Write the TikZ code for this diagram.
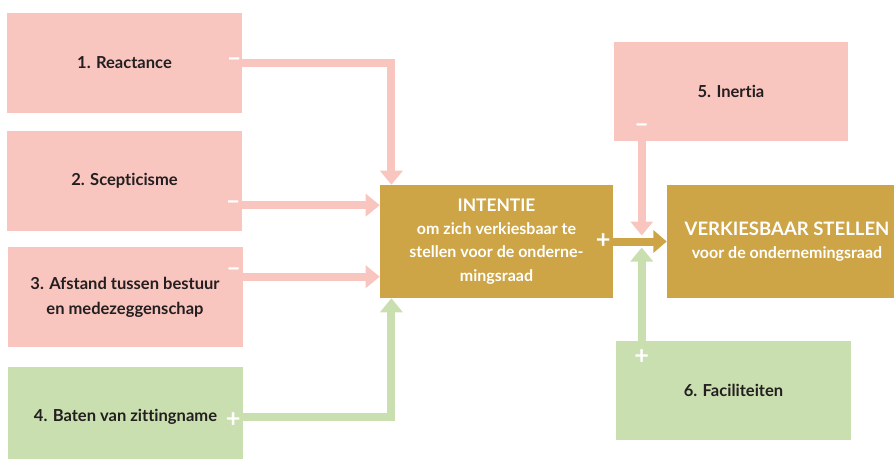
\documentclass[tikz,border=0pt]{standalone}
\usepackage{fontspec}
\setmainfont{Lato}[Ligatures=NoCommon]
\usetikzlibrary{arrows.meta,calc,positioning}

\definecolor{roze}{HTML}{F9C5BF}
\definecolor{groen}{HTML}{CADFAF}
\definecolor{goud}{HTML}{CDA546}
\definecolor{inkt}{HTML}{231F20}

\tikzset{
  factor/.style={minimum width=176.25pt, minimum height=75pt, inner sep=0pt, align=center,
    text=inkt, font=\fontsize{12.4}{18.8}\selectfont\bfseries},
  remmer/.style={factor, fill=roze},
  drijver/.style={factor, fill=groen},
  uitkomst/.style={fill=goud, minimum height=84.75pt, inner sep=0pt, align=center,
    text=white, font=\fontsize{12}{17.5}\selectfont\bfseries},
  teken/.style={text=white, inner sep=0pt, font=\fontsize{19}{19}\selectfont\bfseries},
  negarrow/.style={draw=roze, line width=6pt, -{Triangle[width=16.5pt,length=10.5pt]}},
  posarrow/.style={draw=groen, line width=6pt, -{Triangle[width=16.5pt,length=10.5pt]}},
  goudarrow/.style={draw=goud, line width=6pt, -{Triangle[width=16.5pt,length=10pt]}}
}

\begin{document}
\begin{tikzpicture}[x=0.75pt,y=-0.75pt]
    \useasboundingbox (0,0) rectangle (894,458);
    \clip (0,0) rectangle (894,458);

    % factoren links
    \node[remmer] (r1) at (124.5,63) {1. Reactance};
    \node[remmer] (r2) at (124.5,181) {2. Scepticisme};
    \node[remmer] (r3) at (125,297) {3. Afstand tussen bestuur\\en medezeggenschap};
    \node[drijver] (r4) at (125.5,417) {4. Baten van zittingname};

    % intentie en gedrag
    \node[uitkomst, minimum width=174.75pt] (int) at (496.5,241.5)
        {{\fontsize{13}{17.5}\selectfont INTENTIE}\\om zich verkiesbaar te\\stellen voor de onderne-\\mingsraad};
    \node[uitkomst, minimum width=180pt] (verk) at (787,241.5)
        {{\fontsize{13.9}{19.5}\selectfont VERKIESBAAR STELLEN}\\voor de ondernemingsraad};

    % factoren rechts
    \node[remmer, minimum width=175.5pt, minimum height=74.25pt] (r5) at (731,91.5) {5. Inertia};
    \node[drijver, minimum width=176.25pt, minimum height=74.25pt] (r6) at (733.5,390.5) {6. Faciliteiten};

    % aanhechtpunten
    \coordinate (in1) at ($(int.north west)!0.05!(int.north east)$);
    \coordinate (in2) at ($(int.north west)!0.18!(int.south west)$);
    \coordinate (in3) at ($(int.north west)!0.81!(int.south west)$);
    \coordinate (in4) at ($(int.south west)!0.05!(int.south east)$);
    \coordinate (t5) at ($(r5.south west)+(28,0)$);
    \coordinate (jn) at (t5 |- int.east);

    \draw[negarrow] (r1.east) -| (in1);
    \draw[negarrow] (r2.east |- in2) -- (in2);
    \draw[negarrow] (r3.east |- in3) -- (in3);
    \draw[posarrow] (r4.east) -| (in4);
    \draw[goudarrow] (int.east) -- (verk.west);
    \draw[negarrow] (t5) -- ($(jn)+(0,-6)$);
    \draw[posarrow] (r6.north -| t5) -- ($(jn)+(0,6)$);

    % tekens
    \node[teken] (s1) at ($(r1.east)+(-8,-1)$) {--};
    \node[teken] (s2) at ($(r2.east |- in2)+(-9,0)$) {--};
    \node[teken] (s3) at ($(r3.east |- in3)+(-9,-5)$) {--};
    \node[teken] (s4) at ($(r4.east)+(-10,3)$) {+};
    \node[teken] (s0) at ($(int.east)+(-10,0)$) {+};
    \node[teken] (s5) at ($(t5)+(0,-13)$) {--};
    \node[teken] (s6) at ($(r6.north -| t5)+(0,16)$) {+};
\end{tikzpicture}
\end{document}
